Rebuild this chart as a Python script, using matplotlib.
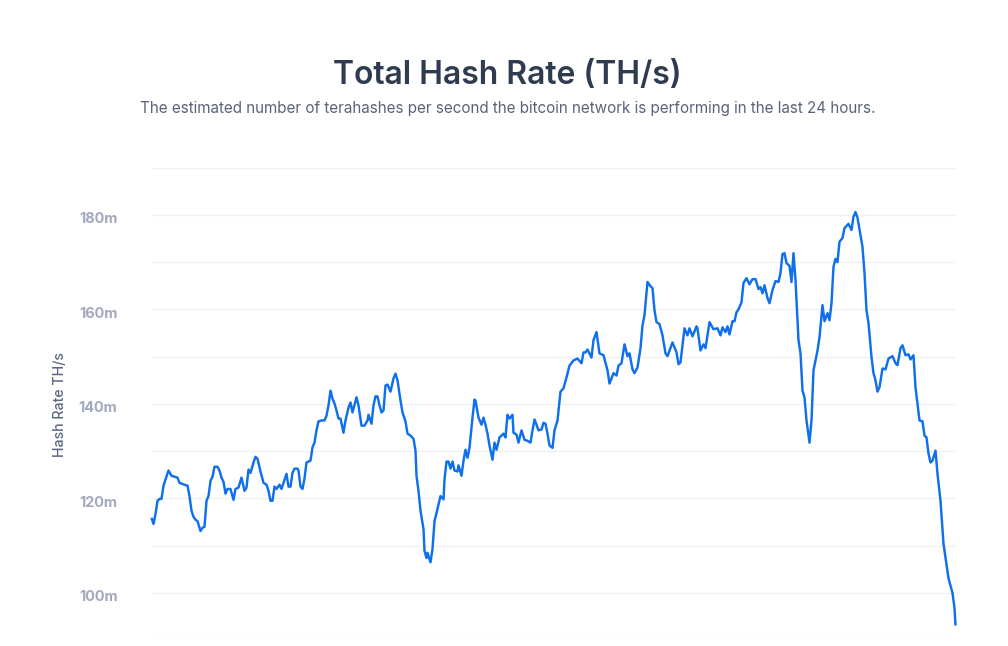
import matplotlib
matplotlib.use('Agg')
import matplotlib.pyplot as plt
from matplotlib.transforms import ScaledTranslation

# 采样序号和对应的算力(百万 TH/s)
sample = [0, 2, 4, 6, 8, 10, 12, 14, 17, 20, 23, 26, 28, 33, 36, 38, 40, 42, 44, 46,
          49, 51, 53, 55, 57, 59, 61, 63, 66, 68, 70, 72, 74, 76, 79, 82, 84, 87, 90, 93,
          95, 97, 99, 102, 104, 106, 109, 112, 115, 117, 119, 121, 123, 125, 128, 130, 132, 135, 137, 139,
          141, 143, 146, 147, 149, 151, 153, 155, 157, 159, 161, 163, 165, 167, 170, 173, 175, 177, 179, 181,
          183, 185, 187, 189, 192, 194, 197, 199, 201, 205, 207, 210, 213, 216, 217, 220, 222, 224, 226, 228,
          230, 232, 234, 236, 239, 242, 244, 246, 249, 251, 254, 256, 259, 262, 264, 265, 267, 269, 272, 273,
          275, 276, 279, 281, 283, 285, 289, 292, 293, 295, 297, 299, 301, 303, 306, 307, 310, 312, 314, 316,
          318, 321, 323, 324, 327, 330, 332, 334, 336, 338, 341, 343, 345, 348, 351, 352, 354, 356, 358, 361,
          362, 365, 367, 370, 373, 376, 379, 381, 383, 385, 387, 390, 392, 394, 396, 398, 401, 403, 406, 409,
          412, 415, 418, 422, 426, 430, 432, 434, 436, 440, 442, 445, 448, 452, 456, 458, 462, 465, 467, 470,
          473, 476, 478, 481, 483, 486, 489, 491, 493, 496, 499, 501, 503, 505, 508, 511, 514, 516, 521, 525,
          527, 529, 533, 536, 538, 541, 545, 546, 549, 552, 554, 558, 562, 566, 569, 571, 574, 576, 578, 581,
          583, 585, 587, 590, 592, 595, 598, 601, 604, 607, 609, 611, 613, 616, 618, 621, 624, 627, 629, 631,
          633, 635, 638, 640, 642, 644, 647, 649, 651, 653, 655, 658, 660, 662, 666, 668, 671, 673, 676, 678,
          680, 682, 684, 686, 688, 691, 693, 697, 700, 702, 704, 706, 711, 713, 715, 717, 720, 722, 724, 726,
          728, 731, 734, 737, 741, 744, 746, 749, 751, 754, 757, 759, 762, 764, 768, 771, 773, 775, 777, 779,
          781, 784, 786, 789, 792, 797, 801, 803, 804]
hash_rate = [115.9, 114.6, 116.7, 119.5, 119.9, 119.9, 122.7, 124.0, 125.9, 124.8, 124.6, 124.4, 123.3, 122.9, 122.7, 120.5, 117.4, 116.1, 115.5, 115.2,
             113.1, 113.8, 114.0, 119.5, 120.5, 123.7, 124.6, 126.7, 126.7, 125.9, 124.4, 123.5, 121.0, 122.0, 122.0, 119.7, 122.0, 122.3, 124.4, 121.6,
             122.3, 126.1, 125.4, 127.6, 128.8, 128.4, 125.7, 123.3, 122.9, 121.6, 119.5, 119.5, 122.5, 122.0, 122.9, 122.0, 123.3, 125.2, 122.5, 122.5,
             125.4, 126.3, 126.3, 125.9, 122.5, 122.0, 124.2, 127.6, 127.8, 128.0, 130.8, 131.8, 134.4, 136.3, 136.5, 136.5, 137.5, 139.7, 142.8, 141.1,
             140.1, 138.6, 136.9, 136.9, 133.9, 136.5, 139.2, 140.3, 138.2, 141.4, 139.7, 135.4, 135.4, 136.5, 137.7, 135.8, 139.7, 141.6, 141.6, 139.7,
             138.2, 138.6, 143.9, 144.1, 142.6, 145.4, 146.4, 145.0, 140.7, 138.2, 136.3, 133.7, 133.3, 132.6, 130.1, 124.8, 121.6, 117.4, 113.5, 108.9,
             107.4, 108.5, 106.5, 109.3, 115.2, 116.9, 120.5, 119.8, 124.0, 127.8, 127.8, 126.3, 127.8, 125.9, 125.7, 127.0, 124.8, 128.0, 130.3, 128.6,
             130.7, 137.1, 140.9, 140.7, 137.1, 135.6, 137.1, 135.6, 133.7, 131.2, 128.2, 131.8, 130.3, 132.9, 133.5, 133.7, 132.9, 137.7, 136.9, 137.7,
             133.9, 133.5, 131.8, 134.4, 132.4, 132.2, 131.8, 134.4, 136.7, 135.6, 134.4, 134.6, 136.0, 135.8, 133.7, 131.2, 130.7, 134.4, 136.5, 142.6,
             143.3, 145.6, 148.1, 149.2, 149.6, 148.6, 150.9, 150.9, 151.5, 149.8, 153.5, 155.2, 150.7, 150.3, 147.1, 144.3, 146.5, 146.0, 148.1, 148.6,
             152.6, 150.1, 150.7, 147.3, 146.5, 147.7, 151.8, 156.6, 158.8, 165.8, 164.9, 164.5, 159.8, 157.3, 156.9, 154.5, 150.7, 150.1, 153.0, 150.9,
             148.4, 148.8, 156.0, 154.5, 156.0, 154.3, 156.4, 156.0, 151.3, 152.6, 151.8, 157.3, 155.8, 156.0, 154.5, 156.2, 155.2, 156.4, 154.7, 157.5,
             157.5, 159.4, 160.0, 161.5, 165.6, 166.6, 165.3, 166.4, 166.4, 164.3, 164.7, 163.4, 165.1, 162.4, 161.3, 164.1, 166.0, 165.8, 167.7, 171.7,
             171.9, 169.8, 169.2, 165.8, 171.9, 166.2, 153.5, 150.7, 142.8, 141.4, 136.5, 131.8, 136.5, 147.1, 151.3, 154.1, 160.9, 157.5, 159.2, 157.7,
             161.3, 169.0, 170.7, 170.0, 174.3, 175.1, 177.2, 178.1, 176.8, 179.6, 180.6, 179.4, 173.2, 167.7, 159.8, 157.1, 149.9, 146.5, 145.0, 142.6,
             143.5, 147.5, 147.3, 149.6, 150.1, 148.6, 148.2, 151.8, 152.4, 150.3, 150.5, 149.4, 150.3, 143.5, 136.5, 136.3, 133.3, 132.9, 129.5, 127.6,
             128.0, 130.1, 125.2, 119.5, 110.4, 103.1, 100.0, 96.8, 93.1]
y_ticks = [90, 100, 110, 120, 130, 140, 150, 160, 170, 180, 190]
y_labels = ['', '100m', '', '120m', '', '140m', '', '160m', '', '180m', '']

plt.rcParams['font.family'] = ['Inter', 'DejaVu Sans']

W, H = 1008, 646
fig = plt.figure(figsize=(W / 100, H / 100), dpi=100)
ax = fig.add_axes([151.5 / W, 1 - 640.2 / H, 804 / W, (640.2 - 167.6) / H])

ax.plot(sample, hash_rate, color='#0f6fec', linewidth=1.75, solid_joinstyle='round',
        solid_capstyle='butt', zorder=3, clip_on=False)

ax.set_xlim(0, 804)
ax.set_ylim(90, 190)
ax.set_xticks([])
ax.set_yticks(y_ticks)
ax.set_yticklabels(y_labels, fontsize=10.4, fontweight='bold', color='#a3a8bf')
ax.tick_params(axis='y', length=0, pad=24.5)
for lab in ax.get_yticklabels():
    lab.set_transform(lab.get_transform() + ScaledTranslation(0, -2 / 72, fig.dpi_scale_trans))
ax.grid(axis='y', color='#f0f1f5', linewidth=1)
ax.set_axisbelow(True)
for s in ax.spines.values():
    s.set_visible(False)

fig.text(507 / W, 1 - 75 / H, 'Total Hash Rate (TH/s)', fontsize=23, fontweight='semibold',
         color='#2f3b4f', ha='center', va='center')
fig.text(508 / W, 1 - 109 / H,
         'The estimated number of terahashes per second the bitcoin network is performing in the last 24 hours.',
         fontsize=10.98, color='#5a6478', ha='center', va='center')
fig.text(60 / W, 1 - 404.5 / H, 'Hash Rate TH/s', fontsize=10.2, fontweight='medium', color='#5b6680',
         rotation=90, ha='center', va='center')

plt.savefig('out.png', dpi=100)
